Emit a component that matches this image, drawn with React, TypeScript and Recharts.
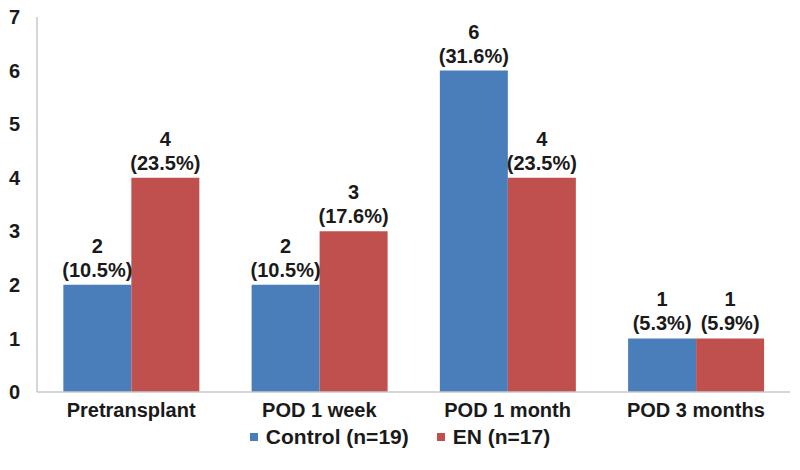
import React from "react";
import { BarChart, Bar, XAxis, YAxis, Legend, LabelList } from "recharts";

// values
const categories = ["Pretransplant", "POD 1 week", "POD 1 month", "POD 3 months"];
const controlCounts = [2, 2, 6, 1];
const enCounts = [4, 3, 4, 1];
const controlPct = ["10.5%", "10.5%", "31.6%", "5.3%"];
const enPct = ["23.5%", "17.6%", "23.5%", "5.9%"];
const yTicks = [0, 1, 2, 3, 4, 5, 6, 7];

const BLUE = "#4a7ebb"; // Control
const RED = "#c0504d"; // EN
const FONT = "'Liberation Sans', Arial, sans-serif";
const FS = 20;

const data = categories.map((name, i) => ({
  name,
  control: controlCounts[i],
  en: enCounts[i],
}));

// two line label: count on top, percentage below
const makeLabel = (pcts: string[]) => (props: any) => {
  const { x, y, width, value, index } = props;
  const cx = x + width / 2;
  return (
    <g>
      <text x={cx} y={y - 32} textAnchor="middle" fontFamily={FONT} fontWeight="bold" fontSize={FS} fill="#1a1a1a">
        {value}
      </text>
      <text x={cx} y={y - 8} textAnchor="middle" fontFamily={FONT} fontWeight="bold" fontSize={FS} fill="#1a1a1a">
        ({pcts[index]})
      </text>
    </g>
  );
};

const legendItems = [
  { label: "Control (n=19)", color: BLUE },
  { label: "EN (n=17)", color: RED },
];

const renderLegend = () => (
  <div style={{ display: "flex", justifyContent: "center", paddingTop: 3, paddingLeft: 10 }}>
    {legendItems.map((item) => (
      <div key={item.label} style={{ display: "flex", alignItems: "center", margin: "0 14px" }}>
        <span style={{ width: 8, height: 8, background: item.color, display: "inline-block", marginRight: 8 }} />
        <span style={{ fontFamily: FONT, fontWeight: "bold", fontSize: 21, color: "#1a1a1a", lineHeight: "24px" }}>
          {item.label}
        </span>
      </div>
    ))}
  </div>
);

export default function App() {
  return (
    <div style={{ position: "absolute", left: 0, top: 0, background: "#fff" }}>
      <BarChart
        width={800}
        height={470}
        data={data}
        margin={{ top: 17, right: 10, bottom: 0, left: 0 }}
        barCategoryGap="14%"
        barGap={0}
      >
        <XAxis
          dataKey="name"
          axisLine={{ stroke: "#c8c8c8", strokeWidth: 1.5 }}
          tickLine={false}
          tickSize={0}
          tickMargin={11}
          height={30}
          tick={{ fontFamily: FONT, fontWeight: "bold", fontSize: FS, fill: "#1a1a1a" }}
        />
        <YAxis
          domain={[0, 7]}
          ticks={yTicks}
          width={37}
          axisLine={{ stroke: "#c8c8c8", strokeWidth: 1.5 }}
          tickLine={false}
          tickSize={0}
          tickMargin={17}
          tick={{ fontFamily: FONT, fontWeight: "bold", fontSize: FS, fill: "#1a1a1a" }}
        />
        <Legend verticalAlign="bottom" height={48} content={renderLegend} />
        <Bar dataKey="control" fill={BLUE} isAnimationActive={false}>
          <LabelList dataKey="control" content={makeLabel(controlPct)} />
        </Bar>
        <Bar dataKey="en" fill={RED} isAnimationActive={false}>
          <LabelList dataKey="en" content={makeLabel(enPct)} />
        </Bar>
      </BarChart>
    </div>
  );
}
